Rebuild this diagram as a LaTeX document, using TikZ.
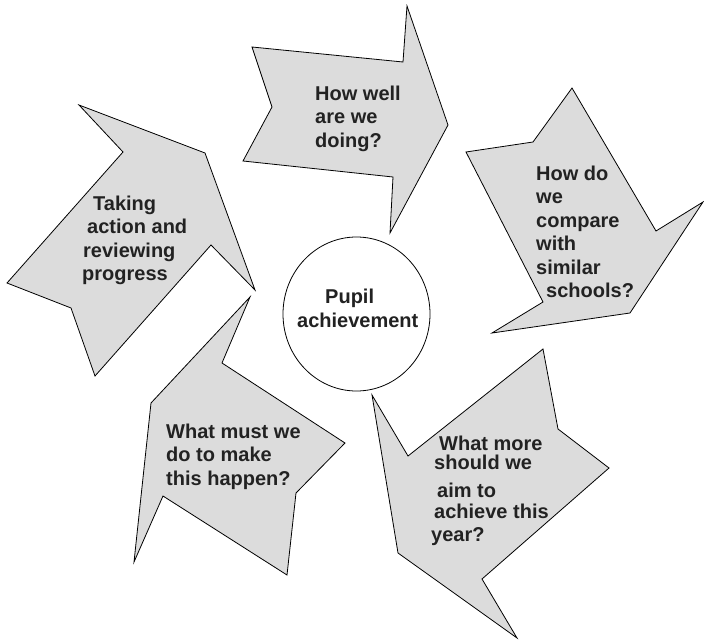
\documentclass[tikz,border=0pt]{standalone}
\usepackage{fontspec}
\setmainfont{Liberation Sans}
\usetikzlibrary{shapes.geometric}
\definecolor{argrey}{RGB}{220,220,220}
\definecolor{artext}{RGB}{34,34,34}

\begin{document}
\begin{tikzpicture}[x=1pt, y=-1pt,
  arrowshape/.style={draw=black, fill=argrey, line width=0.8pt, line join=miter},
  label/.style={anchor=north west, inner sep=0pt, align=left, text=artext, font=\fontsize{20}{23.5}\selectfont\bfseries},
  hub/.style={ellipse, draw=black, fill=white, line width=0.8pt, minimum width=147pt, minimum height=154pt, inner sep=0pt}
]
\useasboundingbox (0,0) rectangle (704,642);
\draw[arrowshape] (252,47) -- (403,62) -- (407,6) -- (448,125) -- (390,233) -- (393,177) -- (243,161) -- (272,107) -- cycle;
\draw[arrowshape] (466,152) -- (533,142) -- (572,88) -- (656,231) -- (703,202) -- (630,313) -- (492,333) -- (543,302) -- cycle;
\draw[arrowshape] (372,395) -- (408,456) -- (543,349) -- (558,429) -- (609,468) -- (482,579) -- (517,638) -- (398,553) -- cycle;
\draw[arrowshape] (250,297) -- (222,363) -- (345,443) -- (296,493) -- (287,575) -- (163,496) -- (134,562) -- (151,403) -- cycle;
\draw[arrowshape] (79,105) -- (205,153) -- (255,290) -- (211,245) -- (95,376) -- (71,308) -- (7,283) -- (123,152) -- cycle;
\node[hub] (centre) at (356.5,314) {};
\node[label] (pupil) at (297,288.5) {\hspace*{28pt}Pupil\\[0.5pt]achievement};
\node[label] (doing) at (315,85.5) {How well\\are we\\doing?};
\node[label] (compare) at (536,165.5) {How do\\we\\compare\\with\\similar\\\hspace*{10pt}schools?};
\node[label] (aim) at (431,435.5) {\hspace*{8pt}What more\\[-4.5pt]\hspace*{3pt}should we\\[4.5pt]\hspace*{6pt}aim to\\[-2.5pt]\hspace*{3pt}achieve this\\year?};
\node[label] (happen) at (166,423.5) {What must we\\do to make\\this happen?};
\node[label] (review) at (82,195.5) {\hspace*{11pt}Taking\\\hspace*{5pt}action and\\\hspace*{1pt}reviewing\\progress};
\end{tikzpicture}
\end{document}
